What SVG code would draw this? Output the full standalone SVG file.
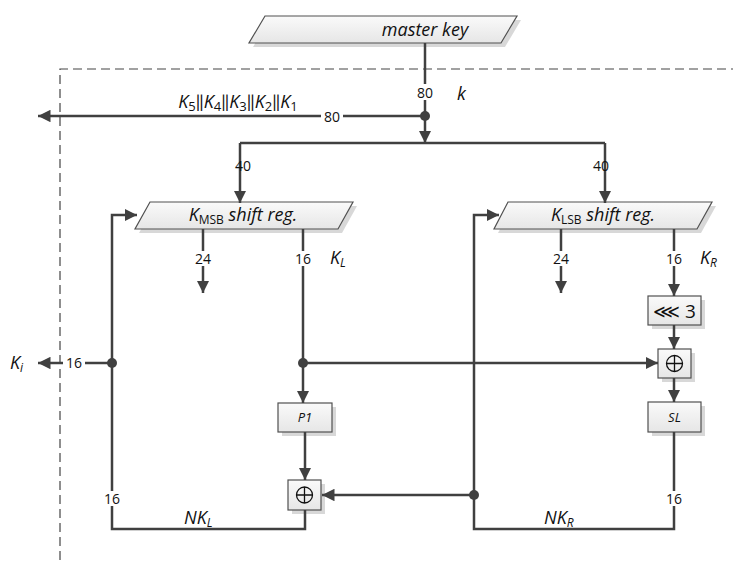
<svg xmlns="http://www.w3.org/2000/svg" width="733" height="569" viewBox="0 0 733 569">
<style>
.ln{stroke:#404040;stroke-width:2.5;fill:none}
.ar{marker-end:url(#ah)}
.box{fill:url(#g);stroke:#505050;stroke-width:1.2}
.sh{fill:#d8d8d8}
.t{font-family:"Open Sans",Lato,sans-serif;fill:#111}
.lab{font-size:14px;text-anchor:middle}
.it{font-style:italic}
.bg{fill:#fff}
</style>
<defs>
<linearGradient id="g" x1="0" y1="0" x2="0" y2="1"><stop offset="0" stop-color="#fafafa"/><stop offset="1" stop-color="#e6e6e6"/></linearGradient>
<marker id="ah" viewBox="0 0 10 10" refX="10" refY="5" markerWidth="5" markerHeight="5" markerUnits="strokeWidth" orient="auto"><path d="M0,0 L10,5 L0,10 Z" fill="#404040"/></marker>
</defs>
<g id="frame"><path d="M60,560 V69 H733" fill="none" stroke="#444" stroke-width="1.2" stroke-dasharray="9,5"/></g>
<g id="master-key">
<polygon class="sh" points="269,20 521,20 505,47 253,47"/>
<polygon class="box" points="265,16 517,16 501,43 249,43"/>
<text class="t it" x="425" y="36" font-size="18" text-anchor="middle">master key</text>
</g>
<g id="kmsb">
<polygon class="sh" points="154,206 357,206 342,233 139,233"/>
<polygon class="box" points="150,202 353,202 338,229 135,229"/>
<text class="t it" x="243" y="221" font-size="18" text-anchor="middle">K<tspan font-style="normal" font-size="12" dy="3">MSB</tspan><tspan dy="-3"> shift reg.</tspan></text>
</g>
<g id="klsb">
<polygon class="sh" points="512,206 716,206 701,233 498,233"/>
<polygon class="box" points="508,202 712,202 697,229 494,229"/>
<text class="t it" x="603" y="221" font-size="18" text-anchor="middle">K<tspan font-style="normal" font-size="12" dy="3">LSB</tspan><tspan dy="-3"> shift reg.</tspan></text>
</g>
<g id="rot">
<rect class="sh" x="652" y="300" width="53" height="29"/>
<rect class="box" x="648" y="296" width="53" height="29"/>
<text class="t" x="674.5" y="318" font-size="19" text-anchor="middle">⋘ 3</text>
</g>
<g id="xor-r">
<rect class="sh" x="662" y="353" width="33" height="29"/>
<rect class="box" x="658" y="349" width="33" height="29"/>
<circle cx="674.5" cy="363.5" r="8" fill="none" stroke="#111" stroke-width="1.3"/>
<path d="M666.5,363.5 H682.5 M674.5,355.5 V371.5" stroke="#111" stroke-width="1.3"/>
</g>
<g id="sl">
<rect class="sh" x="652" y="406" width="53" height="30"/>
<rect class="box" x="648" y="402" width="53" height="30"/>
<text class="t it" x="674.5" y="422" font-size="13" text-anchor="middle">SL</text>
</g>
<g id="p1">
<rect class="sh" x="282" y="407" width="54" height="29"/>
<rect class="box" x="278" y="403" width="54" height="29"/>
<text class="t it" x="305" y="422" font-size="13" text-anchor="middle">P1</text>
</g>
<g id="xor-l">
<rect class="sh" x="292" y="484" width="33" height="30"/>
<rect class="box" x="288" y="480" width="33" height="30"/>
<circle cx="304.5" cy="495" r="8" fill="none" stroke="#111" stroke-width="1.3"/>
<path d="M296.5,495 H312.5 M304.5,487 V503" stroke="#111" stroke-width="1.3"/>
</g>
<g id="connectors">
<path class="ln ar" d="M425,43 V143"/>
<path class="ln ar" d="M425,116 H38"/>
<path class="ln" d="M240,143 H605"/>
<path class="ln ar" d="M240,143 V203"/>
<path class="ln ar" d="M605,143 V203"/>
<path class="ln ar" d="M203,229 V293"/>
<path class="ln ar" d="M303,229 V403"/>
<path class="ln ar" d="M561,229 V293"/>
<path class="ln ar" d="M674,229 V296"/>
<path class="ln ar" d="M674,325 V349"/>
<path class="ln ar" d="M674,378 V402"/>
<path class="ln ar" d="M303,363 H658"/>
<path class="ln ar" d="M305,432 V480"/>
<path class="ln ar" d="M305,510 V529 H112 V215 H137"/>
<path class="ln ar" d="M674,432 V529 H474 V215 H499"/>
<path class="ln ar" d="M474,495 H322"/>
<path class="ln ar" d="M112,363 H38"/>
<circle cx="425" cy="116" r="5" fill="#404040"/>
<circle cx="303" cy="363" r="5" fill="#404040"/>
<circle cx="112" cy="363" r="5" fill="#404040"/>
<circle cx="474" cy="495" r="5" fill="#404040"/>
</g>
<g id="labels">
<rect class="bg" x="415" y="84" width="20" height="16"/>
<text class="t lab" x="425" y="98">80</text>
<text class="t it" x="457" y="100" font-size="18">k</text>
<rect class="bg" x="321" y="109" width="22" height="15"/>
<text class="t lab" x="332" y="122">80</text>
<text class="t it" x="238" y="108" font-size="18" text-anchor="middle">K<tspan font-style="normal" font-size="13" dy="3">5</tspan><tspan font-style="normal" dy="-3">‖</tspan>K<tspan font-style="normal" font-size="13" dy="3">4</tspan><tspan font-style="normal" dy="-3">‖</tspan>K<tspan font-style="normal" font-size="13" dy="3">3</tspan><tspan font-style="normal" dy="-3">‖</tspan>K<tspan font-style="normal" font-size="13" dy="3">2</tspan><tspan font-style="normal" dy="-3">‖</tspan>K<tspan font-style="normal" font-size="13" dy="3">1</tspan></text>
<text class="t lab" x="243" y="171">40</text>
<text class="t lab" x="601" y="171">40</text>
<rect class="bg" x="192" y="251" width="22" height="15"/>
<text class="t lab" x="203" y="264">24</text>
<rect class="bg" x="292" y="251" width="22" height="15"/>
<text class="t lab" x="303" y="264">16</text>
<rect class="bg" x="550" y="251" width="22" height="15"/>
<text class="t lab" x="561" y="264">24</text>
<rect class="bg" x="663" y="251" width="22" height="15"/>
<text class="t lab" x="674" y="264">16</text>
<text class="t it" x="330" y="264" font-size="18">K<tspan font-size="12" dy="3">L</tspan></text>
<text class="t it" x="700" y="264" font-size="18">K<tspan font-size="12" dy="3">R</tspan></text>
<rect class="bg" x="63" y="356" width="22" height="15"/>
<text class="t lab" x="74" y="368">16</text>
<text class="t it" x="10" y="369" font-size="18">K<tspan font-size="12" dy="3">i</tspan></text>
<rect class="bg" x="101" y="491" width="22" height="15"/>
<text class="t lab" x="112" y="504">16</text>
<rect class="bg" x="663" y="491" width="22" height="15"/>
<text class="t lab" x="674" y="504">16</text>
<text class="t it" x="184" y="524" font-size="18">NK<tspan font-size="12" dy="3">L</tspan></text>
<text class="t it" x="544" y="524" font-size="18">NK<tspan font-size="12" dy="3">R</tspan></text>
</g>
</svg>
